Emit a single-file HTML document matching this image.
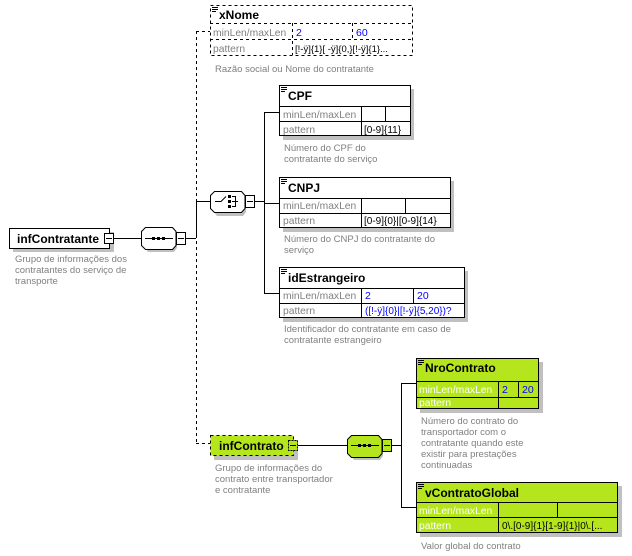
<!DOCTYPE html>
<html><head><meta charset="utf-8"><style>
body{margin:0;background:#fff;}
svg{display:block;font-family:"Liberation Sans",sans-serif;}
.d{font-size:9.5px;fill:#808080;}
.t{font-size:12px;font-weight:bold;fill:#000;}
.l{font-size:10.3px;fill:#808080;}
.v{font-size:10.5px;fill:#0000ff;}
.k{font-size:10px;fill:#000;}
.g{font-size:10.3px;fill:#fff;}
</style></head><body>
<svg width="632" height="556" viewBox="0 0 632 556">
<defs>
<g id="ic"><path d="M0 0.5h6M0 2.5h6M0 4.5h4" stroke="#000" stroke-width="1" fill="none"/></g>
</defs>
<g stroke="#000" fill="none">
<path d="M113 238.5H141M185 238.5H196M196.5 201V238M196 201.5H210M255 201.5H264M264.5 112V293M264 112.5H279M264 203.5H279M264 293.5H279"/>
<path d="M196.5 31V443M196 31.5H210M196 443.5H210" stroke-dasharray="3,3"/>
<path d="M297 445.5H347M392 445.5H401M401.5 383V507M401 383.5H416M401 507.5H416"/>
</g>
<rect x="13" y="232" width="101" height="20" fill="#c0c0c0"/>
<rect x="9.5" y="228.5" width="100" height="20" fill="#fff" stroke="#000"/>
<text x="17" y="243" class="t">infContratante</text>
<rect x="104.5" y="233.5" width="9" height="10" fill="#fff" stroke="#000"/><path d="M106 238.5h6" stroke="#000"/>
<text class="d"><tspan x="15" y="262">Grupo de informações dos</tspan><tspan x="15" y="273">contratantes do serviço de</tspan><tspan x="15" y="284">transporte</tspan></text>
<path d="M148 231h26l3 4v13l-3 4h-26l-3-4v-13z" fill="#c0c0c0"/>
<path d="M145.5 227.5h27l3.5 4v14l-3.5 4h-27l-4-4v-14z" fill="#fff" stroke="#000"/>
<path d="M145 238.5h28" stroke="#000"/><rect x="152" y="237" width="3" height="3"/><rect x="157" y="237" width="3" height="3"/><rect x="162" y="237" width="3" height="3"/>
<rect x="176.5" y="232.5" width="9" height="12" fill="#fff" stroke="#000"/><path d="M178 238.5h6" stroke="#000"/>
<path d="M217 196h26l3 4v12l-3 4h-26l-3-4v-12z" fill="#c0c0c0"/>
<path d="M214.5 191.5h27l3.5 4v13l-3.5 4h-27l-4-4v-13z" fill="#fff" stroke="#000"/>
<path d="M215 201.5h6l5-5M232 196.5h3M232 201.5h6M232 206.5h3M235.5 196v11" stroke="#000" fill="none"/><rect x="228" y="195" width="3" height="3"/><rect x="228" y="200" width="3" height="3"/><rect x="228" y="205" width="3" height="3"/>
<rect x="245.5" y="195.5" width="9" height="12" fill="#fff" stroke="#000"/><path d="M247 201.5h6" stroke="#000"/>
<rect x="210.5" y="5.5" width="202" height="50" fill="#fff" stroke="#000" stroke-dasharray="3,3"/>
<g stroke="#000" stroke-dasharray="3,3"><path d="M210 23.5H412M210 39.5H412M292.5 23V55M352.5 23V39"/></g>
<use href="#ic" x="212" y="7"/>
<text x="219" y="19" class="t">xNome</text>
<text x="213" y="36" class="l">minLen/maxLen</text><text x="296" y="36" class="v">2</text><text x="356" y="36" class="v">60</text>
<text x="213" y="52" class="l">pattern</text><text x="295" y="52" class="k" style="font-size:9.5px">[!-ÿ]{1}[ -ÿ]{0,}[!-ÿ]{1}...</text>
<text x="215" y="72" class="d">Razão social ou Nome do contratante</text>
<rect x="283" y="89" width="131" height="51" fill="#c0c0c0"/>
<rect x="279.5" y="85.5" width="131" height="50" fill="#fff" stroke="#000"/>
<path d="M279 106.5H410M279 121.5H410M361.5 106V136M385.5 106V121" stroke="#000"/>
<use href="#ic" x="281" y="87"/>
<text x="288" y="100" class="t">CPF</text>
<text x="283" y="118" class="l">minLen/maxLen</text>
<text x="283" y="133" class="l">pattern</text><text x="364" y="133" class="k">[0-9]{11}</text>
<text class="d"><tspan x="284" y="151">Número do CPF do</tspan><tspan x="284" y="162">contratante do serviço</tspan></text>
<rect x="283" y="181" width="171" height="51" fill="#c0c0c0"/>
<rect x="279.5" y="177.5" width="171" height="50" fill="#fff" stroke="#000"/>
<path d="M279 198.5H450M279 213.5H450M361.5 198V228M405.5 198V213" stroke="#000"/>
<use href="#ic" x="281" y="179"/>
<text x="288" y="192" class="t">CNPJ</text>
<text x="283" y="209" class="l">minLen/maxLen</text>
<text x="283" y="224" class="l">pattern</text><text x="364" y="224" class="k">[0-9]{0}|[0-9]{14}</text>
<text class="d"><tspan x="284" y="242">Número do CNPJ do contratante do</tspan><tspan x="284" y="253">serviço</tspan></text>
<rect x="283" y="271" width="185" height="51" fill="#c0c0c0"/>
<rect x="279.5" y="267.5" width="185" height="50" fill="#fff" stroke="#000"/>
<path d="M279 288.5H464M279 303.5H464M361.5 288V318M413.5 288V303" stroke="#000"/>
<use href="#ic" x="281" y="269"/>
<text x="288" y="282" class="t">idEstrangeiro</text>
<text x="283" y="299" class="l">minLen/maxLen</text><text x="365" y="299" class="v">2</text><text x="417" y="299" class="v">20</text>
<text x="283" y="314" class="l">pattern</text><text x="365" y="314" class="v" style="font-size:10px">([!-ÿ]{0}|[!-ÿ]{5,20})?</text>
<text class="d"><tspan x="284" y="332">Identificador do contratante em caso de</tspan><tspan x="284" y="343">contratante estrangeiro</tspan></text>
<rect x="214" y="440" width="84" height="20" fill="#c0c0c0"/>
<rect x="210.5" y="435.5" width="83" height="20" fill="#b5e61d" stroke="#000" stroke-dasharray="3,3"/>
<text x="219" y="450" class="t">infContrato</text>
<rect x="288.5" y="440.5" width="9" height="10" fill="#b5e61d" stroke="#000" stroke-dasharray="2,1"/><path d="M290 445.5h6" stroke="#000"/>
<text class="d"><tspan x="215" y="471">Grupo de informações do</tspan><tspan x="215" y="482">contrato entre transportador</tspan><tspan x="215" y="493">e contratante</tspan></text>
<path d="M354 439h26l3 4v13l-3 4h-26l-3-4v-13z" fill="#c0c0c0"/>
<path d="M351.5 435.5h27l3.5 4v14l-3.5 4h-27l-4-4v-14z" fill="#b5e61d" stroke="#000"/>
<path d="M351 445.5h28" stroke="#000"/><rect x="358" y="444" width="3" height="3"/><rect x="363" y="444" width="3" height="3"/><rect x="368" y="444" width="3" height="3"/>
<rect x="382.5" y="439.5" width="9" height="12" fill="#b5e61d" stroke="#000"/><path d="M384 445.5h6" stroke="#000"/>
<rect x="420" y="362" width="123" height="51" fill="#c0c0c0"/>
<rect x="416.5" y="358.5" width="122" height="50" fill="#b5e61d" stroke="#000"/>
<path d="M416 381.5H538M416 397.5H538M498.5 381V408M518.5 381V397" stroke="#000"/>
<use href="#ic" x="418" y="360"/>
<text x="425" y="372" class="t">NroContrato</text>
<text x="419" y="393" class="g">minLen/maxLen</text><text x="502" y="393" class="v">2</text><text x="522" y="393" class="v">20</text>
<text x="419" y="406" class="g">pattern</text>
<text class="d"><tspan x="421" y="424">Número do contrato do</tspan><tspan x="421" y="435">transportador com o</tspan><tspan x="421" y="446">contratante quando este</tspan><tspan x="421" y="457">existir para prestações</tspan><tspan x="421" y="468">continuadas</tspan></text>
<rect x="420" y="486" width="202" height="51" fill="#c0c0c0"/>
<rect x="416.5" y="482.5" width="201" height="50" fill="#b5e61d" stroke="#000"/>
<path d="M416 502.5H617M416 517.5H617M498.5 502V532M557.5 502V517" stroke="#000"/>
<use href="#ic" x="418" y="484"/>
<text x="425" y="497" class="t">vContratoGlobal</text>
<text x="419" y="514" class="g">minLen/maxLen</text>
<text x="419" y="529" class="g">pattern</text><text x="502" y="529" class="k">0\.[0-9]{1}[1-9]{1}|0\.[...</text>
<text x="421" y="549" class="d">Valor global do contrato</text>
</svg>
</body></html>
